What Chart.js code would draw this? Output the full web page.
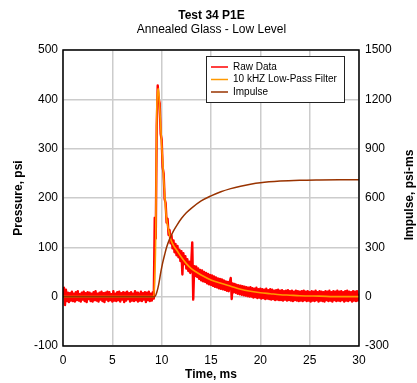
<!DOCTYPE html>
<html>
<head>
<meta charset="utf-8">
<script src="https://cdn.jsdelivr.net/npm/chart.js@4.4.1/dist/chart.umd.min.js"></script>
<style>
  html, body { margin: 0; padding: 0; background: #fff; }
  #wrap { width: 417px; height: 383px; }
</style>
</head>
<body>
<div id="wrap"><canvas id="pressureChart" width="417" height="383"></canvas></div>
<script>
// raw gauge record, one sample every 0.1 ms from 0 to 30 ms (psi)
var RAW_DT = 0.1;
var rawPsi = [
    0, 18, -17, 14, -9, 8, -11, 7, -8, 10,
    -9, 6, -10, 9, -7, 11, -8, 5, -10, 8,
    -6, 10, -9, 7, -11, 9, -5, 8, -9, 6,
    -10, 9, -7, 11, -8, 6, -10, 8, -6, 10,
    -9, 7, -11, 8, -6, 10, -9, 9, -7, 5,
    -10, 11, -8, 6, -9, 9, -7, 10, -10, 7,
    -6, 9, -11, 8, -8, 10, -5, 7, -10, 9,
    -8, 6, -9, 11, -7, 8, -10, 6, -8, 10,
    -9, 7, -6, 9, -11, 8, -7, 10, -9, 6,
    -8, 9, -4, 160, 118, 345, 428, 400, 392, 330,
    318, 262, 250, 198, 190, 150, 158, 125, 135, 108,
    124, 98, 114, 90, 107, 84, 103, 80, 95, 72,
    92, 45, 88, 66, 82, 57, 76, 52, 71, 48,
    68, 110, -6, 62, 42, 61, 40, 57, 36, 54,
    33, 53, 31, 50, 30, 48, 27, 46, 25, 44,
    24, 43, 22, 41, 20, 39, 19, 37, 17, 36,
    16, 35, 15, 33, 14, 31, 12, 30, 11, 29,
    38, -5, 27, 9, 26, 8, 24, 6, 23, 5,
    22, 4, 21, 3, 20, 2, 19, 1, 18, 0,
    19, 0, 17, -2, 16, -1, 18, -3, 15, -2,
    16, -4, 15, -3, 14, -5, 16, -4, 13, -5,
    15, -6, 14, -5, 12, -7, 13, -6, 14, -7,
    12, -7, 13, -8, 11, -6, 12, -8, 13, -7,
    11, -8, 12, -9, 10, -7, 12, -8, 11, -9,
    10, -8, 11, -9, 12, -7, 10, -9, 11, -8,
    9, -10, 11, -8, 10, -9, 12, -7, 9, -10,
    11, -8, 10, -9, 9, -10, 11, -7, 10, -9,
    12, -8, 9, -10, 11, -7, 10, -9, 12, -8,
    10, -9, 11, -7, 9, -10, 11, -8, 12, -9,
    10, -7, 9, -10, 11, -8, 10, -9, 11, -8,
    6
];

// 10 kHz low-pass filtered pressure (ms, psi)
var filterTime = [0, 9.2, 9.3, 9.4, 9.45, 9.5, 9.55, 9.6, 9.66, 9.75,
    9.85, 10.0, 10.1, 10.2, 10.3, 10.4, 10.5, 10.6, 10.7, 10.85,
    11.0, 11.25, 11.5, 12.0, 12.5, 13.0, 13.5, 14.0, 15.0, 16.0,
    17.0, 18.0, 19.0, 20.0, 21.0, 22.0, 23.0, 24.0, 26.0, 28.0, 30.0];
var filterPsi = [0, 0, 40, 125, 250, 370, 405, 418, 422, 400,
    365, 308, 275, 240, 208, 180, 157, 145, 135, 121,
    112, 102, 95, 80, 67, 57, 50, 44, 34, 27,
    21, 15, 11, 8, 6, 4, 3, 2, 1, 0, 0];

// cumulative impulse (ms, psi-ms)
var impulseTime = [0, 9.3, 9.5, 9.7, 9.9, 10.1, 10.3, 10.5, 10.8, 11.2,
    11.6, 12.0, 12.5, 13.0, 14.0, 15.0, 16.0, 17.0, 18.0, 19.0,
    20.0, 22.0, 24.0, 26.0, 28.0, 30.0];
var impulseVal = [0, 0, 25, 75, 145, 205, 255, 300, 350, 400,
    440, 475, 510, 537, 582, 613, 638, 657, 672, 684,
    693, 703, 708, 710, 711, 711];

var seriesLabels = ['Raw Data', '10 kHZ Low-Pass Filter', 'Impulse'];

function toPoints(xs, ys) {
    var pts = [];
    for (var i = 0; i < ys.length; i++) {
        pts.push({ x: xs[i], y: ys[i] });
    }
    return pts;
}

var rawTime = [];
for (var i = 0; i < rawPsi.length; i++) {
    rawTime.push(Math.round(i * RAW_DT * 10) / 10);
}

Chart.defaults.font.family = '"Liberation Sans", Arial, sans-serif';
Chart.defaults.font.size = 12;
Chart.defaults.color = '#000';

// black frame round the plot area
var plotFrame = {
    id: 'plotFrame',
    afterDatasetsDraw: function (chart) {
        var a = chart.chartArea, ctx = chart.ctx;
        ctx.save();
        ctx.strokeStyle = '#000';
        ctx.lineWidth = 1.5;
        ctx.strokeRect(a.left, a.top, a.right - a.left, a.bottom - a.top);
        ctx.restore();
    }
};

// right axis title, read bottom-to-top like the left one
var rightTitle = {
    id: 'rightTitle',
    afterDraw: function (chart, args, opts) {
        var a = chart.chartArea, ctx = chart.ctx;
        ctx.save();
        ctx.translate(opts.x, (a.top + a.bottom) / 2 - 3);
        ctx.rotate(-Math.PI / 2);
        ctx.font = 'bold 12px "Liberation Sans", Arial, sans-serif';
        ctx.fillStyle = '#000';
        ctx.textAlign = 'center';
        ctx.textBaseline = 'middle';
        ctx.fillText(opts.text, 0, 0);
        ctx.restore();
    }
};

// boxed legend inside the plot
var boxLegend = {
    id: 'boxLegend',
    afterDraw: function (chart, args, opts) {
        var ctx = chart.ctx;
        ctx.save();
        ctx.fillStyle = '#fff';
        ctx.fillRect(opts.left, opts.top, opts.width, opts.height);
        ctx.strokeStyle = '#222';
        ctx.lineWidth = 1;
        ctx.strokeRect(opts.left + 0.5, opts.top + 0.5, opts.width, opts.height);
        ctx.font = '10px "Liberation Sans", Arial, sans-serif';
        ctx.textBaseline = 'middle';
        chart.data.datasets.forEach(function (ds, i) {
            var y = opts.top + 11 + i * 12.5;
            ctx.strokeStyle = ds.borderColor;
            ctx.lineWidth = 1.5;
            ctx.beginPath();
            ctx.moveTo(opts.left + 5, y);
            ctx.lineTo(opts.left + 22, y);
            ctx.stroke();
            ctx.fillStyle = '#000';
            ctx.fillText(ds.label, opts.left + 27, y);
        });
        ctx.restore();
    }
};

var ctx = document.getElementById('pressureChart').getContext('2d');

var pressureChart = new Chart(ctx, {
    type: 'line',
    data: {
        datasets: [{
            label: seriesLabels[0],
            data: toPoints(rawTime, rawPsi),
            borderColor: '#ff0000',
            borderWidth: 2.4,
            borderJoinStyle: 'round',
            pointRadius: 0,
            tension: 0,
            yAxisID: 'y',
            order: 3
        }, {
            label: seriesLabels[1],
            data: toPoints(filterTime, filterPsi),
            borderColor: '#ff9900',
            borderWidth: 1.6,
            pointRadius: 0,
            cubicInterpolationMode: 'monotone',
            yAxisID: 'y',
            order: 2
        }, {
            label: seriesLabels[2],
            data: toPoints(impulseTime, impulseVal),
            borderColor: '#993300',
            borderWidth: 1.5,
            pointRadius: 0,
            cubicInterpolationMode: 'monotone',
            yAxisID: 'y2',
            order: 1
        }]
    },
    options: {
        responsive: false,
        animation: false,
        layout: { padding: { left: 6, right: 0, top: 0, bottom: 0 } },
        plugins: {
            legend: { display: false },
            tooltip: { enabled: false },
            title: {
                display: true,
                text: 'Test 34 P1E',
                color: '#000',
                font: { size: 12, weight: 'bold' },
                padding: { top: 8, bottom: 0 }
            },
            subtitle: {
                display: true,
                text: 'Annealed Glass - Low Level',
                color: '#000',
                font: { size: 12 },
                padding: { top: 0, bottom: 13.2 }
            },
            rightTitle: { text: 'Impulse, psi-ms', x: 410 },
            boxLegend: { left: 206, top: 56, width: 138, height: 46 }
        },
        scales: {
            x: {
                type: 'linear',
                min: 0,
                max: 30,
                ticks: { stepSize: 5, padding: 7, color: '#000' },
                grid: { color: '#cccccc', lineWidth: 1.5, drawTicks: false },
                border: { display: false },
                title: {
                    display: true,
                    text: 'Time, ms',
                    color: '#000',
                    font: { size: 12, weight: 'bold' },
                    padding: { top: 0, bottom: 1 }
                },
                afterFit: function (scale) { scale.height = 37; }
            },
            y: {
                position: 'left',
                min: -100,
                max: 500,
                ticks: { stepSize: 100, padding: 5, color: '#000' },
                grid: { color: '#cccccc', lineWidth: 1.5, drawTicks: false },
                border: { display: false },
                title: {
                    display: true,
                    text: 'Pressure, psi',
                    color: '#000',
                    font: { size: 12, weight: 'bold' },
                    padding: { top: 5, bottom: 0 }
                },
                afterFit: function (scale) { scale.width = 57; }
            },
            y2: {
                position: 'right',
                min: -300,
                max: 1500,
                ticks: {
                    stepSize: 300,
                    padding: 6,
                    color: '#000',
                    callback: function (v) { return String(v); }
                },
                grid: { display: false, drawTicks: false },
                border: { display: false },
                afterFit: function (scale) { scale.width = 58; }
            }
        }
    },
    plugins: [plotFrame, rightTitle, boxLegend]
});
</script>
</body>
</html>
